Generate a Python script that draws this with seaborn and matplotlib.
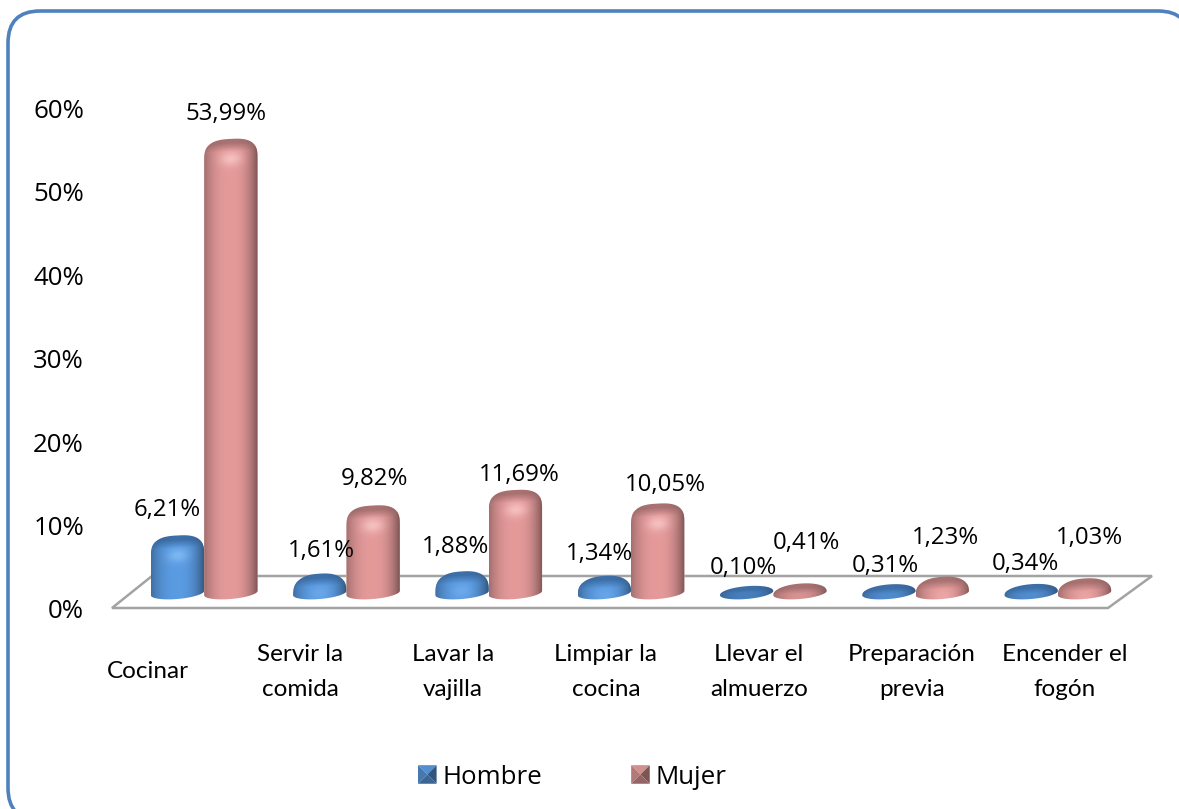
import numpy as np
import pandas as pd
import seaborn as sns
import matplotlib.pyplot as plt
from matplotlib.colors import to_rgb
from matplotlib.legend_handler import HandlerBase
from matplotlib.patches import FancyBboxPatch, Polygon, Rectangle
from matplotlib.path import Path

categorias = ["Cocinar", "Servir la\ncomida", "Lavar la\nvajilla", "Limpiar la\ncocina",
              "Llevar el\nalmuerzo", "Preparación\nprevia", "Encender el\nfogón"]
hombre = [6.21, 1.61, 1.88, 1.34, 0.10, 0.31, 0.34]
mujer = [53.99, 9.82, 11.69, 10.05, 0.41, 1.23, 1.03]
ticks_y = [0, 10, 20, 30, 40, 50, 60]

# layout in pixels of the 1179x809 picture
W, H = 1179, 809
FONT = "Open Sans"
cat_x = [148, 300, 453, 606, 759, 912, 1065]
cat_y = 672
off_h = [(-10, 31), (2, 29), (-6, 30), (-5, 27.5), (-3, 24.5), (-4, 24.5), (-6, 26.5)]
off_m = [(-5, 30.5), (1, 32), (4, 20.5), (8, 25), (6, 47), (3, 44.5), (5, 46)]
cap_b = 6.0    # half height of the disc
tilt = 2.2     # the bottom disc rises to the right
tilt_top = 1.4

sns.set_theme(style="white")
plt.rcParams["font.family"] = [FONT, "DejaVu Sans"]

fig = plt.figure(figsize=(W / 100, H / 100), dpi=100, facecolor="white")


def px_axes(left, top, right, bottom):
    return fig.add_axes([left / W, 1 - bottom / H, (right - left) / W, (bottom - top) / H])


# background: frame and floor, in picture pixels
bg = fig.add_axes([0, 0, 1, 1])
bg.set_xlim(0, W)
bg.set_ylim(H, 0)
bg.axis("off")
bg.add_patch(FancyBboxPatch((38, 41), 1122, 749, boxstyle="round,pad=30,rounding_size=32",
                            fc="white", ec="#4F81BD", lw=2.6, clip_on=False))
bg.add_patch(Polygon([(112, 608), (1108, 608), (1152, 576), (152, 576)], closed=True,
                     fc="none", ec="#A3A3A3", lw=1.8))
for x, txt in zip(cat_x, categorias):
    bg.text(x, cat_y, txt, ha="center", va="center", fontsize=17.5, family=["Lato", "DejaVu Sans"],
            color="black", linespacing=1.85)

# the value scale on the left sits apart from the bars, as in the 3D original
axy = px_axes(84, 108, 110, 609)
axy.set_ylim(0, 60)
axy.set_xticks([])
axy.set_yticks(ticks_y)
axy.set_yticklabels([f"{t}%" for t in ticks_y], fontsize=18.6, color="black")
axy.tick_params(axis="y", length=0, pad=0)
axy.patch.set_alpha(0)
sns.despine(ax=axy, left=True, bottom=True)

# bars
df = pd.DataFrame({"cat": categorias * 2,
                   "valor": hombre + mujer,
                   "sexo": ["Hombre"] * len(hombre) + ["Mujer"] * len(mujer)})
top_px, bottom_px = 100, 625
base_px = 593
ppy = 8.3
ax = px_axes(133, top_px, 1129, bottom_px)
ax.patch.set_alpha(0)
sns.barplot(data=df, x="cat", y="valor", hue="sexo", hue_order=["Hombre", "Mujer"],
            palette=["#5A9BE2", "#E59A9A"], width=0.75, gap=0, saturation=1, ax=ax)
ax.set_xlabel("")
ax.set_ylabel("")
ax.set_xticks([])
ax.set_yticks([])
sns.despine(ax=ax, left=True, bottom=True)

shades = {
    0: dict(mid="#5A9BE2", cap="#3D6FA8", hi="#86BDF6"),
    1: dict(mid="#E59A9A", cap="#A97272", hi="#F9C9C9"),
}


def silhouette(x0, w, h_px):
    # outline of a rounded cylinder, from the bar's own rectangle
    cx = x0 + w / 2
    t = np.linspace(np.pi, 2 * np.pi, 40)
    ub = np.cos(t)
    low = np.column_stack([ub, cap_b * np.sin(t) + tilt * ub])
    drop = min(h_px, 14)
    e = 1 - 0.3 * min(h_px / 20, 1)
    t = np.linspace(0, np.pi, 60)
    ut = np.sign(np.cos(t)) * np.abs(np.cos(t)) ** e
    lean = tilt + (tilt_top - tilt) * min(h_px / 20, 1)
    top = np.column_stack([ut, h_px - drop + (cap_b + drop) * np.sin(t) ** e + lean * ut])
    pts = np.vstack([low, top])
    return Path(np.column_stack([cx + pts[:, 0] * w / 2, pts[:, 1] / ppy]), closed=False)


def shading(k, h_px, u, d):
    c = shades[k]
    mid, cap, hi = map(np.array, (to_rgb(c["mid"]), to_rgb(c["cap"]), to_rgb(c["hi"])))
    fade = 1 - np.where(u < 0, 0.28, 0.45) * np.abs(u) ** 2.4
    rgb = mid[None, None, :] * fade[..., None]
    dk = np.clip(1.5 - d / 8.5, 0, 1)
    dk = np.maximum(dk, np.clip(1 - h_px / 5, 0, 1) * 0.8)[..., None]
    rgb = rgb * (1 - dk) + cap[None, None, :] * (0.6 + 0.4 * fade[..., None]) * dk
    strength = 0.8 * min(h_px / 30, 1)
    glow = np.exp(-((u / 0.4) ** 2 + ((d - 20) / 7) ** 2))[..., None] * strength
    return np.clip(rgb * (1 - glow) + hi[None, None, :] * glow, 0, 1)


handles, labels = ax.get_legend_handles_labels()
if ax.get_legend():
    ax.get_legend().remove()

for k, cont in enumerate(ax.containers):
    for bar, off in zip(cont, off_h if k == 0 else off_m):
        x0, w, val = bar.get_x(), bar.get_width(), bar.get_height()
        h_px = val * ppy
        path = silhouette(x0, w, h_px)
        ylo, yhi = -(cap_b + tilt) - 1, h_px + cap_b + tilt + 1
        ys = np.linspace(ylo, yhi, max(int(yhi - ylo), 4))
        uu, yy = np.meshgrid(np.linspace(-1, 1, 70), ys)
        dd = h_px + cap_b + tilt_top * uu - yy
        img = shading(k, h_px, uu, dd)
        im = ax.imshow(img, extent=(x0, x0 + w, ylo / ppy, yhi / ppy), origin="lower",
                       aspect="auto", interpolation="bilinear", zorder=3 + k)
        im.set_clip_path(path, transform=ax.transData)
        bar.set_clip_path(path, transform=ax.transData)
        ax.annotate(f"{val:.2f}%".replace(".", ","), xy=(x0 + w / 2, val), xytext=off,
                    textcoords="offset pixels", ha="center", va="center",
                    fontsize=17.3, color="black", zorder=6, annotation_clip=False)
ax.set_xlim(-0.5, 6.5)
ax.set_ylim((base_px - bottom_px) / ppy, (base_px - top_px) / ppy)


class Pyramid(HandlerBase):
    # small bevelled square used by the legend
    def create_artists(self, legend, orig, xd, yd, width, height, fontsize, trans):
        base = np.array(orig.get_facecolor()[:3])
        s = width
        x, y = -xd, -yd + (height - s) / 2
        c = (x + s / 2, y + s / 2)
        a, b, cc, d = (x, y), (x + s, y), (x + s, y + s), (x, y + s)
        faces = [([d, cc, c], 0.92), ([a, d, c], 0.78), ([b, cc, c], 0.55), ([a, b, c], 0.65)]
        return [Polygon(p, closed=True, fc=base * f, ec="none", transform=trans) for p, f in faces]


leg = ax.legend(handles, labels, handler_map={Rectangle: Pyramid()}, ncol=2, frameon=False,
                loc="center left", bbox_to_anchor=(418 / W, 1 - 777 / H),
                bbox_transform=fig.transFigure, fontsize=18.6, labelcolor="black",
                handlelength=0.72, handletextpad=0.22, columnspacing=3.45,
                borderpad=0, borderaxespad=0)

fig.savefig("out.png", dpi=100)
